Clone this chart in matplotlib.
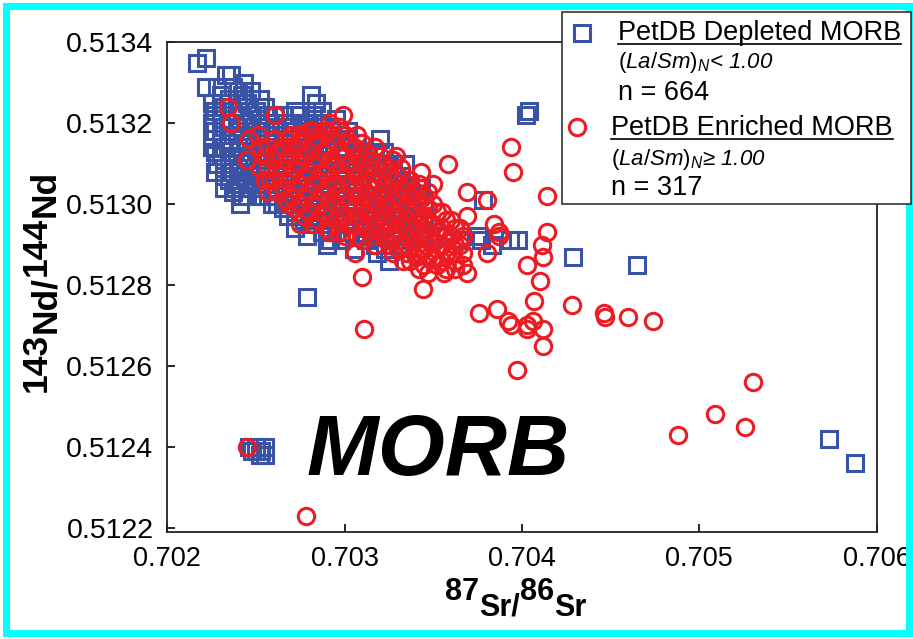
import numpy as np
import matplotlib
matplotlib.use("Agg")
import matplotlib.pyplot as plt
from matplotlib.patches import Rectangle
from matplotlib.lines import Line2D

plt.rcParams['font.family'] = ['Liberation Sans', 'DejaVu Sans']
plt.rcParams['mathtext.fontset'] = 'custom'
plt.rcParams['mathtext.rm'] = 'Liberation Sans'
plt.rcParams['mathtext.it'] = 'Liberation Sans:italic'
plt.rcParams['mathtext.bf'] = 'Liberation Sans:bold'

##########################################################################################
'''Data read off the picture'''
# PetDB depleted MORB (La/Sm)N < 1.00 : 87Sr/86Sr, 143Nd/144Nd
depleted_sr = [
    0.70217, 0.70222, 0.70222, 0.70228, 0.70233, 0.70236, 0.70243, 0.70240, 0.70226, 0.70230,
    0.70252, 0.70261, 0.70281, 0.70284, 0.70287, 0.70295, 0.70302, 0.70320, 0.70322, 0.70324,
    0.70334, 0.70343, 0.70345, 0.70225, 0.70228, 0.70232, 0.70238, 0.70241, 0.70252, 0.70259,
    0.70268, 0.70272, 0.70279, 0.70290, 0.70298, 0.70305, 0.70318, 0.70323, 0.70325, 0.70337,
    0.70352, 0.70365, 0.70375, 0.70377, 0.70383, 0.70393, 0.70398, 0.70378, 0.70402, 0.70404,
    0.70429, 0.70465, 0.70279, 0.70573, 0.70588,
    0.70246, 0.70250, 0.70253, 0.70255, 0.70248, 0.70252, 0.70255, 0.70250,
]
depleted_nd = [
    0.51335, 0.51336, 0.51329, 0.51329, 0.51332, 0.51332, 0.51330, 0.51328, 0.51322, 0.51324,
    0.51326, 0.51322, 0.51327, 0.51325, 0.51323, 0.51321, 0.51318, 0.51316, 0.51313, 0.51310,
    0.51310, 0.51304, 0.51300, 0.51314, 0.51310, 0.51307, 0.51304, 0.51300, 0.51302, 0.51300,
    0.51297, 0.51294, 0.51292, 0.51290, 0.51291, 0.51289, 0.51288, 0.51289, 0.51286, 0.51291,
    0.51292, 0.51291, 0.51292, 0.51291, 0.51290, 0.51291, 0.51291, 0.51301, 0.51322, 0.51323,
    0.51287, 0.51285, 0.51277, 0.51242, 0.51236,
    0.51240, 0.51240, 0.51239, 0.51240, 0.51239, 0.51238, 0.51238, 0.51239,
]
# dense core of the depleted cloud: Sr value -> Nd values seen in that column
depleted_core = {
    0.70225: [0.51325, 0.51320, 0.51316],
    0.70227: [0.51323, 0.51318, 0.51313, 0.51308],
    0.70230: [0.51327, 0.51321, 0.51317, 0.51312],
    0.70232: [0.51324, 0.51319, 0.51314, 0.51309, 0.51304],
    0.70235: [0.51326, 0.51320, 0.51315, 0.51310, 0.51306],
    0.70237: [0.51329, 0.51323, 0.51317, 0.51312, 0.51308, 0.51303],
    0.70240: [0.51324, 0.51319, 0.51314, 0.51309, 0.51305],
    0.70242: [0.51327, 0.51322, 0.51317, 0.51312, 0.51307, 0.51302],
    0.70245: [0.51325, 0.51320, 0.51315, 0.51311, 0.51306, 0.51302],
    0.70247: [0.51328, 0.51322, 0.51318, 0.51313, 0.51308, 0.51304],
    0.70250: [0.51323, 0.51318, 0.51313, 0.51308, 0.51304],
    0.70252: [0.51321, 0.51316, 0.51311, 0.51306],
    0.70255: [0.51324, 0.51319, 0.51314, 0.51309, 0.51305],
    0.70257: [0.51322, 0.51317, 0.51312, 0.51307, 0.51302],
    0.70260: [0.51320, 0.51316, 0.51311, 0.51306, 0.51302],
    0.70262: [0.51319, 0.51314, 0.51309, 0.51304, 0.51300],
    0.70265: [0.51322, 0.51317, 0.51312, 0.51308, 0.51303, 0.51299],
    0.70267: [0.51320, 0.51315, 0.51310, 0.51305, 0.51300],
    0.70270: [0.51320, 0.51315, 0.51310, 0.51305, 0.51300],
    0.70272: [0.51323, 0.51318, 0.51313, 0.51308, 0.51303, 0.51298],
    0.70275: [0.51322, 0.51317, 0.51312, 0.51307, 0.51302, 0.51297],
    0.70277: [0.51320, 0.51315, 0.51310, 0.51305, 0.51300, 0.51296],
    0.70280: [0.51320, 0.51314, 0.51309, 0.51304, 0.51299, 0.51295],
    0.70282: [0.51322, 0.51317, 0.51311, 0.51306, 0.51301, 0.51296],
    0.70285: [0.51319, 0.51313, 0.51307, 0.51301, 0.51296],
    0.70287: [0.51320, 0.51316, 0.51310, 0.51304, 0.51298, 0.51293],
    0.70290: [0.51317, 0.51311, 0.51305, 0.51299, 0.51294],
    0.70292: [0.51319, 0.51314, 0.51308, 0.51302, 0.51296, 0.51291],
    0.70295: [0.51316, 0.51310, 0.51304, 0.51298, 0.51293],
    0.70297: [0.51318, 0.51312, 0.51307, 0.51301, 0.51295],
    0.70300: [0.51314, 0.51308, 0.51302, 0.51296],
    0.70302: [0.51316, 0.51310, 0.51305, 0.51299, 0.51293],
    0.70305: [0.51313, 0.51307, 0.51301, 0.51295],
    0.70307: [0.51315, 0.51309, 0.51303, 0.51297, 0.51292],
    0.70310: [0.51312, 0.51306, 0.51300, 0.51294],
    0.70312: [0.51313, 0.51308, 0.51302, 0.51297, 0.51291],
    0.70315: [0.51310, 0.51304, 0.51298, 0.51293],
    0.70317: [0.51312, 0.51306, 0.51300, 0.51295, 0.51290],
    0.70320: [0.51308, 0.51302, 0.51296, 0.51292],
    0.70322: [0.51310, 0.51304, 0.51299, 0.51294],
    0.70325: [0.51306, 0.51300, 0.51295],
    0.70327: [0.51308, 0.51302, 0.51297, 0.51292],
    0.70330: [0.51305, 0.51299, 0.51294],
    0.70332: [0.51307, 0.51301, 0.51296, 0.51291],
    0.70335: [0.51302, 0.51297, 0.51293],
    0.70337: [0.51304, 0.51299, 0.51294],
    0.70340: [0.51300, 0.51295],
    0.70342: [0.51302, 0.51297, 0.51292],
    0.70345: [0.51297, 0.51293],
}

# PetDB enriched MORB (La/Sm)N >= 1.00
enriched_sr = [
    0.70234, 0.70236, 0.70261, 0.70245, 0.70278, 0.70311, 0.70344, 0.70358, 0.70394, 0.70395,
    0.70414, 0.70380, 0.70384, 0.70387, 0.70414, 0.70411, 0.70412, 0.70403, 0.70380, 0.70410,
    0.70407, 0.70428, 0.70376, 0.70386, 0.70392, 0.70394, 0.70403, 0.70406, 0.70403, 0.70412,
    0.70412, 0.70397, 0.70446, 0.70447, 0.70460, 0.70474, 0.70530, 0.70509, 0.70526, 0.70488,
    0.70369, 0.70387, 0.70310, 0.70306, 0.70329, 0.70343, 0.70350, 0.70369, 0.70367, 0.70369,
    0.70356, 0.70362, 0.70333, 0.70324, 0.70299, 0.70292,
    0.70251, 0.70246, 0.70245, 0.70252, 0.70258, 0.70268, 0.70275, 0.70292, 0.70282, 0.70275,
    0.70269, 0.70274,
]
enriched_nd = [
    0.51324, 0.51320, 0.51322, 0.51240, 0.51223, 0.51269, 0.51279, 0.51310, 0.51314, 0.51308,
    0.51302, 0.51301, 0.51295, 0.51293, 0.51293, 0.51290, 0.51287, 0.51285, 0.51288, 0.51281,
    0.51276, 0.51275, 0.51273, 0.51274, 0.51271, 0.51270, 0.51270, 0.51271, 0.51269, 0.51269,
    0.51265, 0.51259, 0.51273, 0.51272, 0.51272, 0.51271, 0.51256, 0.51248, 0.51245, 0.51243,
    0.51303, 0.51292, 0.51282, 0.51288, 0.51312, 0.51308, 0.51305, 0.51297, 0.51285, 0.51283,
    0.51283, 0.51284, 0.51286, 0.51291, 0.51322, 0.51293,
    0.51317, 0.51316, 0.51311, 0.51309, 0.51306, 0.51300, 0.51295, 0.51320, 0.51318, 0.51317,
    0.51314, 0.51312,
]
enriched_core = {
    0.70252: [0.51314, 0.51309],
    0.70255: [0.51312, 0.51306],
    0.70257: [0.51314, 0.51309, 0.51303],
    0.70260: [0.51316, 0.51311, 0.51306],
    0.70262: [0.51313, 0.51308, 0.51303],
    0.70265: [0.51314, 0.51309, 0.51304],
    0.70267: [0.51316, 0.51311, 0.51306, 0.51301],
    0.70270: [0.51317, 0.51312, 0.51307, 0.51302],
    0.70272: [0.51314, 0.51309, 0.51304, 0.51299],
    0.70275: [0.51315, 0.51310, 0.51305, 0.51300],
    0.70277: [0.51317, 0.51312, 0.51307, 0.51302, 0.51297],
    0.70280: [0.51318, 0.51313, 0.51308, 0.51303, 0.51298],
    0.70282: [0.51315, 0.51310, 0.51305, 0.51300, 0.51295],
    0.70285: [0.51316, 0.51311, 0.51306, 0.51301, 0.51296],
    0.70287: [0.51318, 0.51313, 0.51308, 0.51303, 0.51298],
    0.70290: [0.51318, 0.51314, 0.51309, 0.51304, 0.51299, 0.51294],
    0.70292: [0.51316, 0.51311, 0.51306, 0.51301, 0.51297],
    0.70295: [0.51315, 0.51310, 0.51305, 0.51300, 0.51296],
    0.70297: [0.51319, 0.51313, 0.51308, 0.51303, 0.51298, 0.51293],
    0.70300: [0.51317, 0.51312, 0.51307, 0.51302, 0.51297, 0.51292],
    0.70302: [0.51315, 0.51310, 0.51305, 0.51300, 0.51295],
    0.70305: [0.51314, 0.51309, 0.51304, 0.51299, 0.51295],
    0.70307: [0.51317, 0.51312, 0.51307, 0.51302, 0.51297, 0.51292],
    0.70310: [0.51315, 0.51310, 0.51305, 0.51300, 0.51296, 0.51291],
    0.70312: [0.51313, 0.51308, 0.51303, 0.51298, 0.51294],
    0.70315: [0.51311, 0.51306, 0.51301, 0.51297, 0.51292],
    0.70317: [0.51314, 0.51309, 0.51304, 0.51300, 0.51295, 0.51290],
    0.70320: [0.51312, 0.51307, 0.51302, 0.51298, 0.51294],
    0.70322: [0.51310, 0.51305, 0.51301, 0.51296, 0.51292],
    0.70325: [0.51308, 0.51303, 0.51299, 0.51295, 0.51290],
    0.70327: [0.51311, 0.51306, 0.51301, 0.51297, 0.51292, 0.51288],
    0.70330: [0.51307, 0.51302, 0.51297, 0.51293, 0.51289],
    0.70332: [0.51309, 0.51304, 0.51300, 0.51295, 0.51290],
    0.70335: [0.51305, 0.51300, 0.51296, 0.51292, 0.51288],
    0.70337: [0.51306, 0.51302, 0.51298, 0.51294, 0.51289, 0.51286],
    0.70340: [0.51303, 0.51299, 0.51295, 0.51291, 0.51287],
    0.70342: [0.51305, 0.51301, 0.51297, 0.51293, 0.51288, 0.51284],
    0.70345: [0.51302, 0.51297, 0.51293, 0.51289, 0.51285],
    0.70347: [0.51303, 0.51299, 0.51295, 0.51291, 0.51287, 0.51283],
    0.70350: [0.51300, 0.51295, 0.51291, 0.51287],
    0.70352: [0.51298, 0.51293, 0.51289, 0.51285],
    0.70355: [0.51298, 0.51294, 0.51290, 0.51286],
    0.70357: [0.51296, 0.51292, 0.51288, 0.51284],
    0.70360: [0.51296, 0.51292, 0.51288],
    0.70362: [0.51294, 0.51290, 0.51286],
    0.70365: [0.51294, 0.51290],
    0.70367: [0.51292, 0.51288],
}

x_ticks = [0.702, 0.703, 0.704, 0.705, 0.706]
y_ticks = [0.5122, 0.5124, 0.5126, 0.5128, 0.5130, 0.5132, 0.5134]
n_depleted = 664
n_enriched = 317

BLUE = '#3A53A4'
RED = '#ED1C24'

def unpack(sr, nd, core):
    xs, ys = list(sr), list(nd)
    for k, vals in core.items():
        xs += [k] * len(vals)
        ys += vals
    return xs, ys

##########################################################################################
'''Plot'''
W, H = 913, 639
fig = plt.figure(figsize=(W / 100, H / 100), dpi=100)

def fx(px):
    return px / W

def fy(py):
    return 1 - py / H

ax = fig.add_axes([fx(167.3), fy(531.7), fx(876.7) - fx(167.3), fy(42.3) - fy(531.7)])
dx, dy = unpack(depleted_sr, depleted_nd, depleted_core)
ex, ey = unpack(enriched_sr, enriched_nd, enriched_core)
ax.plot(dx, dy, ls='none', marker='s', ms=11.5, mfc='none', mec=BLUE, mew=2.2, zorder=2)
ax.plot(ex, ey, ls='none', marker='o', ms=11.8, mfc='none', mec=RED, mew=2.2, zorder=3)

ax.set_xlim(0.702, 0.706)
ax.set_ylim(0.51219, 0.5134)
ax.set_xticks(x_ticks)
ax.set_xticklabels(['%.3f' % v for v in x_ticks])
ax.set_yticks(y_ticks)
ax.set_yticklabels(['%.4f' % v for v in y_ticks])
ax.tick_params(direction='in', length=6, width=1.2, labelsize=20.5)
ax.tick_params(axis='x', pad=10, labelsize=19.5)
ax.tick_params(axis='y', pad=10)
for s in ax.spines.values():
    s.set_linewidth(1.3)
    s.set_color('#222222')

fig.text(fx(438), fy(475), 'MORB', fontsize=62, fontweight='bold', fontstyle='italic',
         ha='center', va='baseline')

# axis labels built from pieces (mass numbers raised, element names dropped)
def chain_label(pieces, x0, y0, rotation=0, size=22):
    prev = fig.text(fx(x0), fy(y0), pieces[0][0], fontsize=size, fontweight='bold',
                    rotation=rotation, ha='left', va='bottom')
    prev_drop = pieces[0][1]
    for txt, drop in pieces[1:]:
        d = (drop - prev_drop) * 0.72
        if rotation == 0:
            prev = ax.annotate(txt, xy=(1, 0), xycoords=prev, xytext=(0, -d),
                               textcoords='offset points', fontsize=size, fontweight='bold',
                               ha='left', va='bottom', annotation_clip=False)
        else:
            prev = ax.annotate(txt, xy=(0, 1), xycoords=prev, xytext=(d, 0),
                               textcoords='offset points', fontsize=size, fontweight='bold',
                               rotation=90, ha='left', va='bottom', annotation_clip=False)
        prev_drop = drop

chain_label([('87', 0), ('Sr/', 16), ('86', 0), ('Sr', 16)], 445, 607)
chain_label([('143', 0), ('Nd/', 9), ('144', 0), ('Nd', 9)], 20, 392, rotation=90, size=25.5)

# legend box
fig.add_artist(Rectangle((fx(561.7), fy(204)), fx(911) - fx(561.7), fy(11.7) - fy(204),
                         transform=fig.transFigure, facecolor='white', edgecolor='#222222',
                         lw=1.1, zorder=2))
fig.add_artist(Line2D([fx(582)], [fy(33)], transform=fig.transFigure, marker='s', ms=11.5,
                      mfc='none', mec=BLUE, mew=2.2, zorder=4))
fig.add_artist(Line2D([fx(577)], [fy(127)], transform=fig.transFigure, marker='o', ms=11.8,
                      mfc='none', mec=RED, mew=2.2, zorder=4))

t1 = fig.text(fx(618), fy(40), 'PetDB Depleted MORB', fontsize=19.5, va='baseline', zorder=4)
fig.text(fx(618), fy(68), r'$\mathit{(La/Sm)}_{\mathit{N}}$< 1.00', fontsize=16,
         fontstyle='italic', va='baseline', zorder=4)
fig.text(fx(618), fy(100), 'n = %d' % n_depleted, fontsize=19.5, va='baseline', zorder=4)
t2 = fig.text(fx(611), fy(135), 'PetDB Enriched MORB', fontsize=19.5, va='baseline', zorder=4)
fig.text(fx(611), fy(165), r'$\mathit{(La/Sm)}_{\mathit{N}}$≥ 1.00', fontsize=16,
         fontstyle='italic', va='baseline', zorder=4)
fig.text(fx(611), fy(195), 'n = %d' % n_enriched, fontsize=19.5, va='baseline', zorder=4)

# underline the two legend titles
fig.canvas.draw()
for t, uy in [(t1, 43.5), (t2, 139)]:
    bb = t.get_window_extent()
    fig.add_artist(Line2D([bb.x0 / W, bb.x1 / W], [fy(uy), fy(uy)], transform=fig.transFigure,
                          color='black', lw=1.2, zorder=4))

# cyan frame round the whole picture
fig.add_artist(Rectangle((fx(5.5), fy(632.5)), fx(908.5) - fx(5.5), fy(5.5) - fy(632.5),
                         transform=fig.transFigure, fill=False, edgecolor='#00FFFF',
                         lw=5, zorder=1))

fig.savefig('out.png', dpi=100)
